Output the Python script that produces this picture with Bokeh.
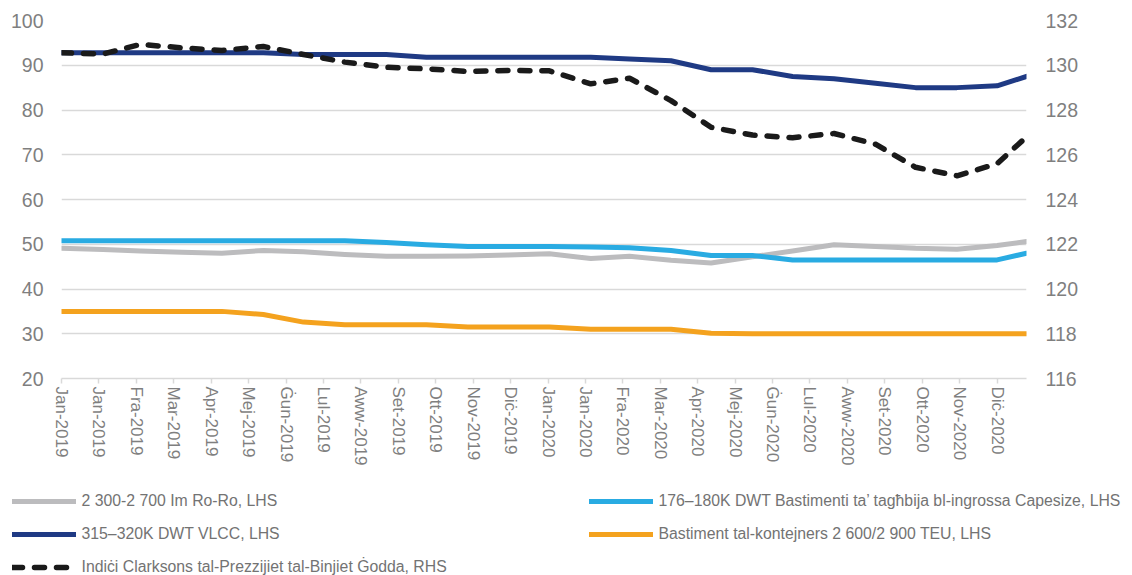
import pandas as pd
from bokeh.plotting import figure
from bokeh.models import Range1d, LinearAxis, FixedTicker, Legend, LegendItem
from bokeh.embed import file_html
from bokeh.resources import INLINE

# ---------------- data ----------------
dates = ["2019-01-01", "2019-02-01", "2019-03-01", "2019-04-01", "2019-05-01", "2019-06-01",
         "2019-07-01", "2019-08-01", "2019-09-01", "2019-10-01", "2019-11-01", "2019-12-01",
         "2020-01-01", "2020-02-01", "2020-03-01", "2020-04-01", "2020-05-01", "2020-06-01",
         "2020-07-01", "2020-08-01", "2020-09-01", "2020-10-01", "2020-11-01", "2020-12-01",
         "2020-12-23"]

tick_labels = ["Jan-2019", "Jan-2019", "Fra-2019", "Mar-2019", "Apr-2019", "Mej-2019", "Ġun-2019",
               "Lul-2019", "Aww-2019", "Set-2019", "Ott-2019", "Nov-2019", "Diċ-2019",
               "Jan-2020", "Jan-2020", "Fra-2020", "Mar-2020", "Apr-2020", "Mej-2020", "Ġun-2020",
               "Lul-2020", "Aww-2020", "Set-2020", "Ott-2020", "Nov-2020", "Diċ-2020"]

roro = [49.1, 48.8, 48.5, 48.2, 48.0, 48.6, 48.3, 47.7, 47.3, 47.3, 47.4, 47.6, 47.9,
        46.8, 47.3, 46.4, 45.8, 47.2, 48.5, 49.9, 49.5, 49.1, 48.9, 49.7, 50.6]
capesize = [50.8, 50.8, 50.8, 50.8, 50.8, 50.8, 50.8, 50.8, 50.4, 49.9, 49.5, 49.5, 49.5,
            49.4, 49.2, 48.6, 47.5, 47.5, 46.5, 46.5, 46.5, 46.5, 46.5, 46.5, 48.0]
vlcc = [92.8, 92.8, 92.8, 92.8, 92.8, 92.8, 92.4, 92.4, 92.4, 91.8, 91.8, 91.8, 91.8,
        91.8, 91.4, 91.0, 89.0, 89.0, 87.5, 87.0, 86.0, 85.0, 85.0, 85.4, 87.5]
container = [35.0, 35.0, 35.0, 35.0, 35.0, 34.3, 32.6, 32.0, 32.0, 32.0, 31.5, 31.5, 31.5,
             31.0, 31.0, 31.0, 30.1, 30.0, 30.0, 30.0, 30.0, 30.0, 30.0, 30.0, 30.0]
clarksons = [130.56, 130.5, 130.93, 130.78, 130.66, 130.84, 130.48, 130.14, 129.91, 129.84,
             129.72, 129.77, 129.75, 129.17, 129.42, 128.42, 127.23, 126.88, 126.76, 126.95,
             126.47, 125.44, 125.06, 125.6, 126.8]

series_labels = ["2 300-2 700 Im Ro-Ro, LHS",
                 "176–180K DWT Bastimenti ta’ tagħbija bl-ingrossa Capesize, LHS",
                 "315–320K DWT VLCC, LHS",
                 "Bastiment tal-kontejners 2 600/2 900 TEU, LHS",
                 "Indiċi Clarksons tal-Prezzijiet tal-Binjiet Ġodda, RHS"]
series_colors = ["#bcbcbe", "#29abe2", "#1f3a84", "#f4a21e", "#1a1a1a"]

# ---------------- helpers ----------------
origin = pd.Timestamp("2019-01-01")
x = [(pd.Timestamp(d) - origin).days for d in dates]
TICK_STEP_DAYS = 28
tick_pos = [i * TICK_STEP_DAYS for i in range(len(tick_labels))]

FONT = "Liberation Sans"
GRID = "#d9d9d9"
TXT = "#7f7f7f"
W = 1132

p = figure(width=W, height=480, output_backend="svg", toolbar_location=None,
           x_range=Range1d(x[0], x[-1]), y_range=Range1d(20, 100),
           min_border_left=61, min_border_right=106, min_border_top=20, min_border_bottom=102)
p.extra_y_ranges = {"rhs": Range1d(116, 132)}
p.outline_line_color = None

# x axis
xa = p.xaxis[0]
xa.ticker = FixedTicker(ticks=tick_pos)
xa.major_label_overrides = {t: l for t, l in zip(tick_pos, tick_labels)}
xa.major_label_orientation = "vertical"
xa.axis_line_color = GRID
xa.axis_line_width = 1.5
xa.major_tick_line_color = GRID
xa.major_tick_line_width = 1.5
xa.major_tick_in = 0
xa.major_tick_out = 5
xa.minor_tick_line_color = None
xa.major_label_standoff = 3
xa.major_label_text_font = FONT
xa.major_label_text_font_size = "17px"
xa.major_label_text_color = TXT

# left y axis
ya = p.yaxis[0]
ya.ticker = FixedTicker(ticks=list(range(20, 101, 10)))
ya.axis_line_color = None
ya.major_tick_line_color = None
ya.major_tick_in = 0
ya.major_tick_out = 0
ya.minor_tick_line_color = None
ya.major_label_standoff = 18
ya.major_label_text_font = FONT
ya.major_label_text_font_size = "19.5px"
ya.major_label_text_color = TXT

# right y axis
ra = LinearAxis(y_range_name="rhs", ticker=FixedTicker(ticks=list(range(116, 133, 2))))
ra.axis_line_color = None
ra.major_tick_line_color = None
ra.major_tick_in = 0
ra.major_tick_out = 0
ra.minor_tick_line_color = None
ra.major_label_standoff = 19
ra.major_label_text_font = FONT
ra.major_label_text_font_size = "19.5px"
ra.major_label_text_color = TXT
p.add_layout(ra, "right")

p.xgrid.grid_line_color = None
p.ygrid.grid_line_color = GRID
p.ygrid.grid_line_width = 1.5

styles = [dict(line_width=5, line_cap="round", line_join="round")] * 4 + \
         [dict(line_width=5.5, line_cap="round", line_join="round", line_dash="10 12")]
values = [roro, capesize, vlcc, container, clarksons]
ranges = ["default"] * 4 + ["rhs"]
for vals, col, st, rn in zip(values, series_colors, styles, ranges):
    p.line(x, vals, line_color=col, y_range_name=rn, **st)

# ---------------- legend strip (own root, so it is not frame-aligned) ----------------
leg = figure(width=W, height=95, output_backend="svg", toolbar_location=None,
             x_range=Range1d(0, 1), y_range=Range1d(0, 1),
             x_axis_type=None, y_axis_type=None, min_border=0)
leg.outline_line_color = None
leg.xgrid.grid_line_color = None
leg.ygrid.grid_line_color = None
# same series, styled identically; their data lie outside this strip's ranges
leg_renderers = [leg.line(x, vals, line_color=col, **st)
                 for vals, col, st in zip(values, series_colors, styles)]
items = [LegendItem(label=l, renderers=[r]) for l, r in zip(series_labels, leg_renderers)]
legend = Legend(items=items, location=(11.5, -2), orientation="horizontal", ncols=2,
                glyph_width=64, glyph_height=20, label_height=20, label_width=494,
                label_standoff=6, spacing=13, padding=0, margin=0,
                border_line_alpha=0, background_fill_alpha=0,
                label_text_font=FONT, label_text_font_size="15.8px",
                label_text_color="#737373")
leg.add_layout(legend)

open("out.html", "w").write(file_html([p, leg], INLINE))
